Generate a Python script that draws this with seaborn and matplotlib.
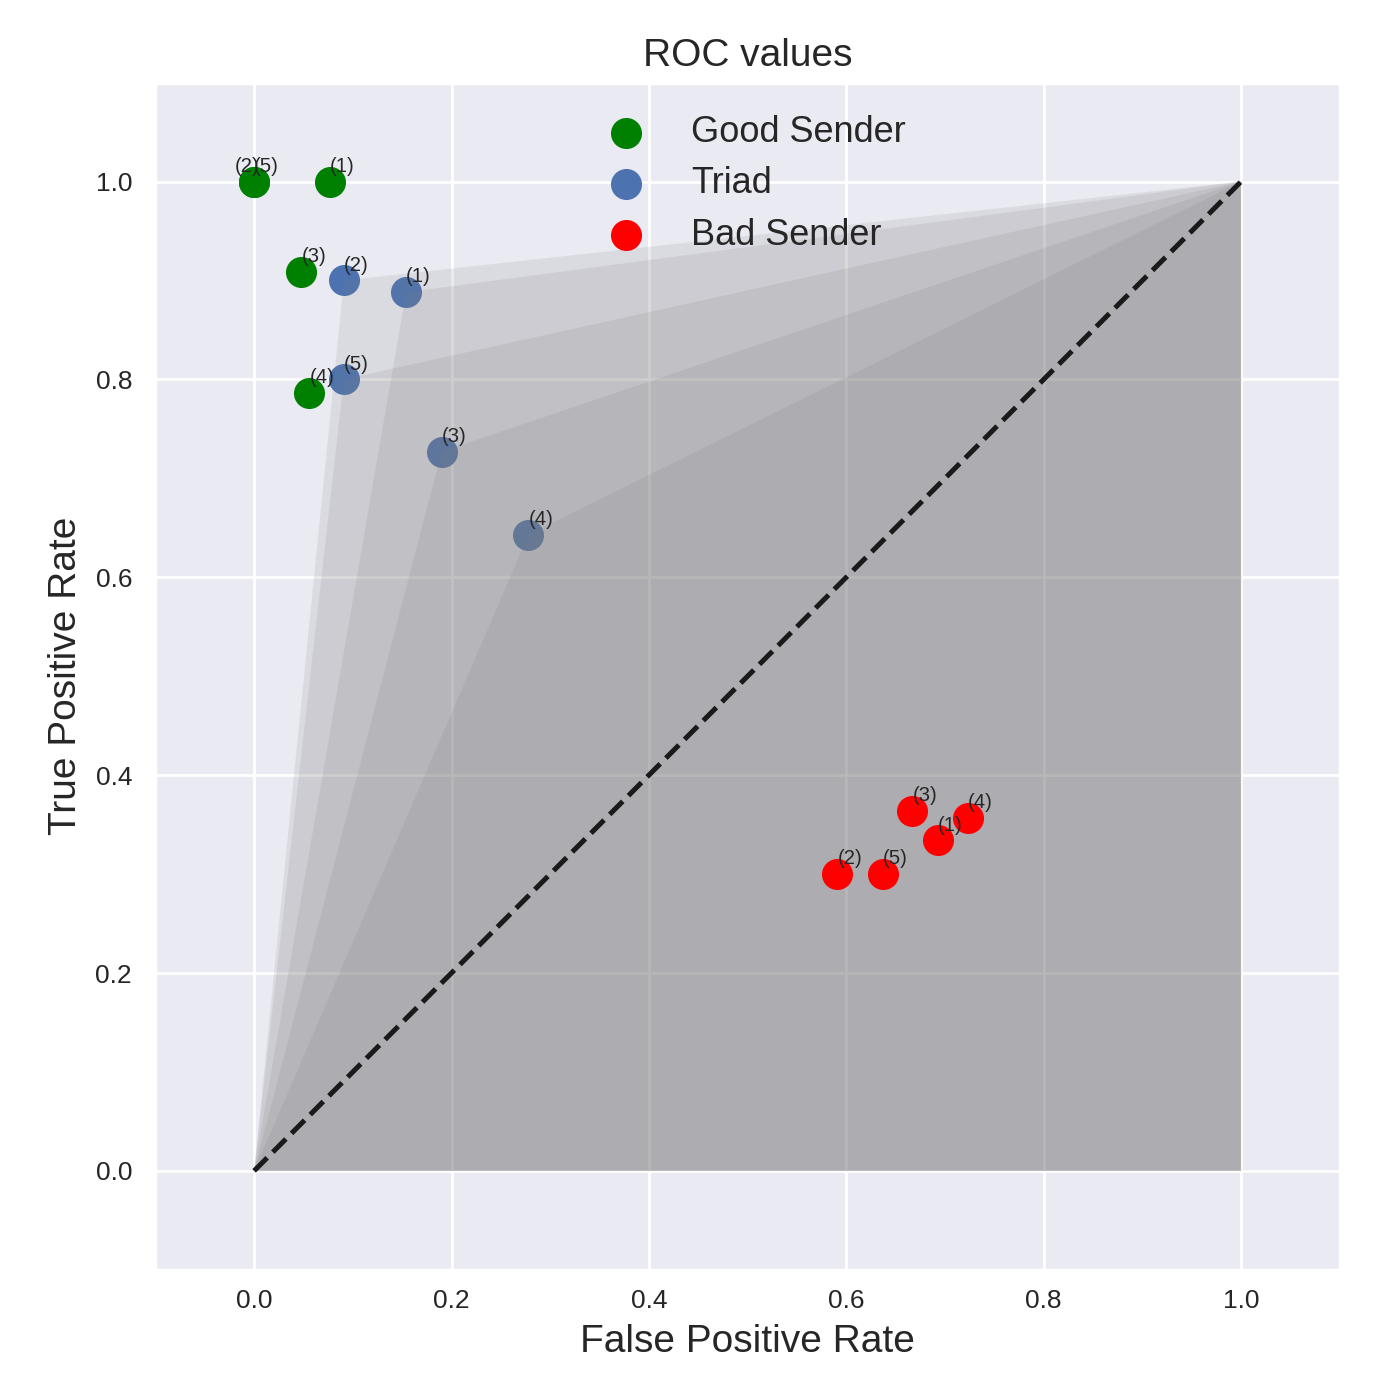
import matplotlib
matplotlib.use("Agg")
import matplotlib.pyplot as plt
import seaborn as sns

# ROC points, indexed (1)..(5)
point_names = ["(1)", "(2)", "(3)", "(4)", "(5)"]

good_fpr = [0.077, 0.0, 0.048, 0.056, 0.0]
good_tpr = [1.0, 1.0, 0.909, 0.786, 1.0]

triad_fpr = [0.154, 0.091, 0.190, 0.278, 0.091]
triad_tpr = [0.888, 0.900, 0.727, 0.643, 0.800]

bad_fpr = [0.693, 0.591, 0.667, 0.723, 0.637]
bad_tpr = [0.334, 0.300, 0.364, 0.357, 0.300]

good_label_dx = [0.0, -0.02, 0.0, 0.0, 0.0]  # (2) and (5) sit on the same spot

sns.set_theme(style="darkgrid")
plt.rcParams["font.family"] = ["Liberation Sans", "DejaVu Sans"]

fig, ax = plt.subplots(figsize=(7, 7), dpi=200)
fig.subplots_adjust(left=0.111, right=0.957, bottom=0.093, top=0.941)

# triad points first, their ROC hulls go over them
sns.scatterplot(x=triad_fpr, y=triad_tpr, color="#4C72B0", s=125, linewidth=0,
                label="Triad", ax=ax, zorder=1)
for fx, ty in zip(triad_fpr, triad_tpr):
    ax.fill([0, fx, 1, 1], [0, ty, 1, 0], color="gray", alpha=0.15, lw=0, zorder=1.5)

sns.scatterplot(x=good_fpr, y=good_tpr, color="green", s=125, linewidth=0,
                label="Good Sender", ax=ax, zorder=2)
sns.scatterplot(x=bad_fpr, y=bad_tpr, color="red", s=125, linewidth=0,
                label="Bad Sender", ax=ax, zorder=2)

ax.plot([0, 1], [0, 1], "k--", lw=1.8, zorder=2.5)

for i, name in enumerate(point_names):
    ax.text(good_fpr[i] + good_label_dx[i], good_tpr[i] + 0.01, name, fontsize=7.3, zorder=3)
    ax.text(triad_fpr[i], triad_tpr[i] + 0.01, name, fontsize=7.3, zorder=3)
    ax.text(bad_fpr[i], bad_tpr[i] + 0.01, name, fontsize=7.3, zorder=3)

ax.set_xlim(-0.1, 1.1)
ax.set_ylim(-0.1, 1.1)
ax.tick_params(labelsize=9.5)
ax.tick_params(axis="x", pad=1.0)
ax.tick_params(axis="y", pad=2.4)
ax.set_xlabel("False Positive Rate", fontsize=14)
ax.set_ylabel("True Positive Rate", fontsize=14)
ax.set_title("ROC values", fontsize=14)

handles, labels = ax.get_legend_handles_labels()
order = [labels.index(l) for l in ["Good Sender", "Triad", "Bad Sender"]]
ax.legend([handles[i] for i in order], [labels[i] for i in order],
          loc="upper center", frameon=False, fontsize=13, labelspacing=0.45)

fig.savefig("out.png", dpi=200)
